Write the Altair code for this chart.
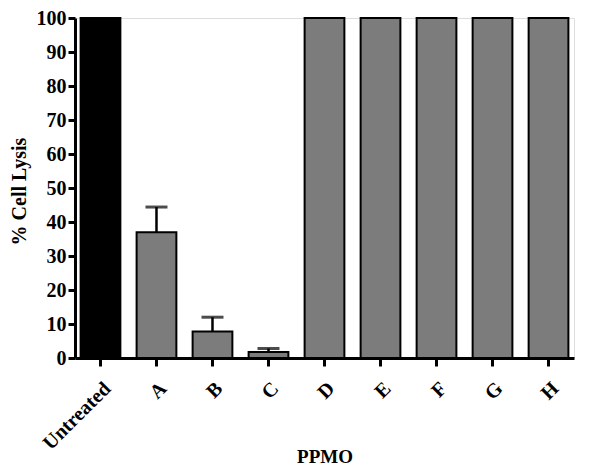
import altair as alt
import pandas as pd

categories = ["Untreated", "A", "B", "C", "D", "E", "F", "G", "H"]
values = [100, 37, 7.8, 1.8, 100, 100, 100, 100, 100]
errors = [0, 7.4, 4.2, 1.0, 0, 0, 0, 0, 0]
groups = ["untreated", "ppmo", "ppmo", "ppmo", "ppmo", "ppmo", "ppmo", "ppmo", "ppmo"]
y_ticks = [0, 10, 20, 30, 40, 50, 60, 70, 80, 90, 100]

df = pd.DataFrame({"cat": categories, "val": values, "err": errors, "grp": groups})
df["top"] = df["val"] + df["err"]
dferr = df[df["err"] > 0]

FONT = "Liberation Serif"
H = 340

x_axis = alt.Axis(labelAngle=-45, labelFont=FONT, labelFontWeight="bold",
                  labelFontSize=20, labelColor="black", titleFont=FONT,
                  titleFontWeight="bold", titleFontSize=19, titleColor="black",
                  domainColor="black", domainWidth=3, tickColor="black",
                  tickWidth=3, tickSize=8, labelPadding=12,
                  titleY=98, titleBaseline="middle")
y_axis = alt.Axis(values=y_ticks, grid=False, labelOverlap=False,
                  labelFont=FONT, labelFontWeight="bold", labelFontSize=20,
                  labelColor="black", titleFont=FONT, titleFontWeight="bold",
                  titleFontSize=20, titleColor="black", domainColor="black",
                  domainWidth=3, tickColor="black", tickWidth=3, tickSize=7,
                  labelPadding=2, titleX=-56, titleY=H / 2 + 3,
                  titleBaseline="middle")
x_scale = alt.Scale(paddingInner=0.29, paddingOuter=0.1)
y_scale = alt.Scale(domain=[0, 100], nice=False)

def X():
    return alt.X("cat:N", sort=categories, title="PPMO", scale=x_scale, axis=x_axis)

bars = alt.Chart(df).mark_bar(stroke="black", strokeWidth=2).encode(
    x=X(),
    y=alt.Y("val:Q", title="% Cell Lysis", scale=y_scale, axis=y_axis),
    fill=alt.Fill("grp:N", scale=alt.Scale(domain=["untreated", "ppmo"],
                                           range=["#000000", "#7c7c7c"]), legend=None),
)

rules = alt.Chart(dferr).mark_rule(color="black", strokeWidth=2.5).encode(
    x=X(), y=alt.Y("val:Q", title="% Cell Lysis", scale=y_scale, axis=y_axis),
    y2="top:Q")

caps = alt.Chart(dferr).mark_tick(color="black", thickness=3, size=22).encode(
    x=X(), y=alt.Y("top:Q", title="% Cell Lysis", scale=y_scale, axis=y_axis))

chart = alt.layer(bars, rules, caps).properties(
    width=499, height=H,
    autosize=alt.AutoSizeParams(type="none"),
    padding={"left": 67, "top": 10, "right": 18, "bottom": 107},
).configure_view(stroke=None).configure(background="white")

chart.save("out.html", embed_options={"renderer": "svg", "actions": False})
